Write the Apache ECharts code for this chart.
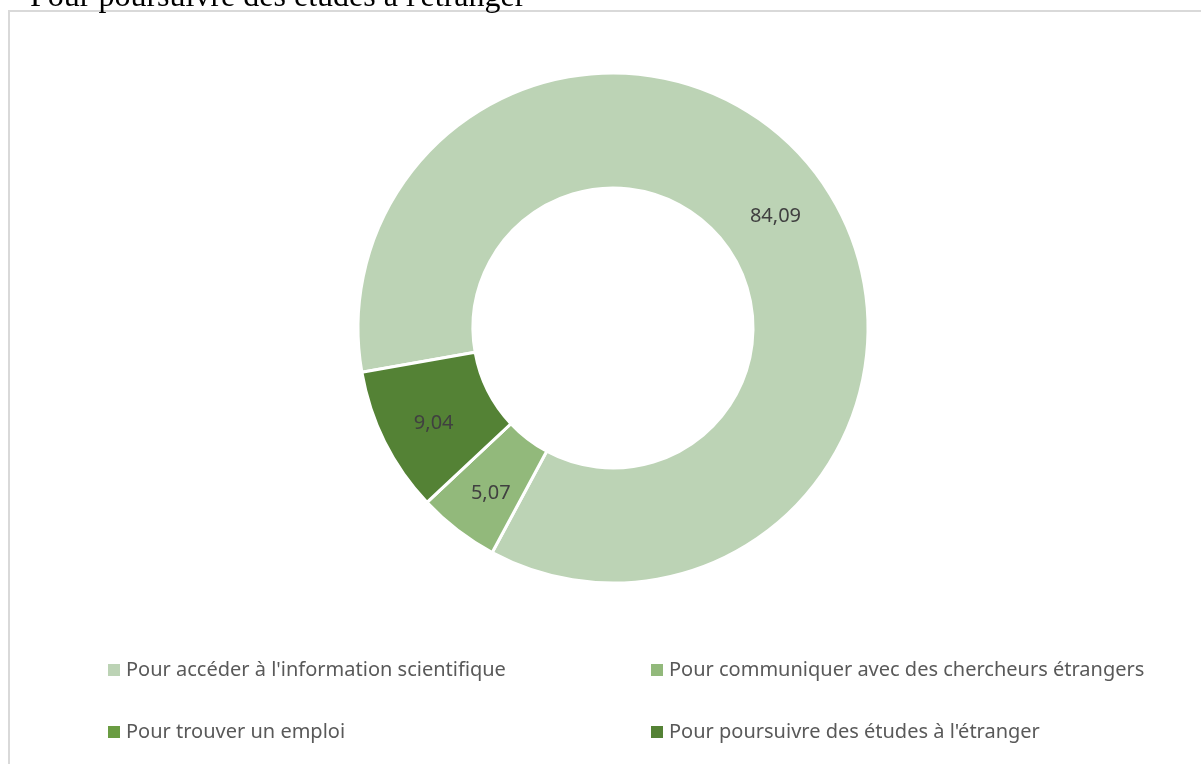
<!DOCTYPE html>
<html>
<head>
<meta charset="utf-8">
<style>
  html, body { margin: 0; padding: 0; background: #ffffff; }
  #chart { width: 1201px; height: 764px; }
</style>
<script src="https://cdn.jsdelivr.net/npm/echarts@6/dist/echarts.min.js"></script>
</head>
<body>
<div id="chart"></div>
<script>
// Reasons for using foreign-language resources (percent of respondents)
const categories = [
  "Pour accéder à l'information scientifique",
  "Pour communiquer avec des chercheurs étrangers",
  "Pour trouver un emploi",
  "Pour poursuivre des études à l'étranger"
];
const values = [84.09, 5.07, 0, 9.04];
const colors = ['#BCD3B5', '#92B97B', '#6A9C42', '#548235'];
const headingText = "Pour poursuivre des études à l'étranger";

const chart = echarts.init(document.getElementById('chart'), null, { renderer: 'canvas' });

const fmt = v => v.toFixed(2).replace('.', ',');

const pieData = categories.map((name, i) => ({
  name: name,
  value: values[i],
  itemStyle: { color: colors[i] },
  label: { show: values[i] > 0 }
}));

const legendText = { color: '#595959', fontSize: 20, fontFamily: '"Noto Sans", "Open Sans", sans-serif' };

function legendColumn(names, left) {
  return {
    data: names,
    orient: 'vertical',
    left: left,
    top: 655,
    icon: 'rect',
    itemWidth: 14,
    itemHeight: 14,
    itemGap: 42,
    textStyle: legendText,
    selectedMode: false
  };
}

chart.setOption({
  animation: false,
  backgroundColor: '#ffffff',
  graphic: [
    {
      type: 'rect',
      shape: { x: 9, y: 11, width: 1230, height: 800 },
      style: { fill: 'none', stroke: '#D9D9D9', lineWidth: 2 },
      silent: true
    },
    {
      type: 'text',
      x: 30,
      y: -2,
      style: {
        text: headingText,
        font: '32px "Liberation Serif", "DejaVu Serif", serif',
        fill: '#000000',
        verticalAlign: 'middle'
      },
      silent: true
    }
  ],
  legend: [
    legendColumn([categories[0], categories[2]], 101),
    legendColumn([categories[1], categories[3]], 644)
  ],
  series: [
    {
      type: 'pie',
      center: [613, 328],
      radius: [140, 255],
      startAngle: 190,
      clockwise: true,
      avoidLabelOverlap: false,
      itemStyle: { borderColor: '#ffffff', borderWidth: 3 },
      label: {
        position: 'inside',
        formatter: p => '{v|' + fmt(p.value) + '}',
        rich: {
          v: {
            color: '#404040',
            fontSize: 20,
            padding: [12, 0, 0, 0],
            fontFamily: '"Noto Sans", "Open Sans", sans-serif'
          }
        }
      },
      labelLine: { show: false },
      emphasis: { disabled: true },
      data: pieData
    }
  ]
});
</script>
</body>
</html>
